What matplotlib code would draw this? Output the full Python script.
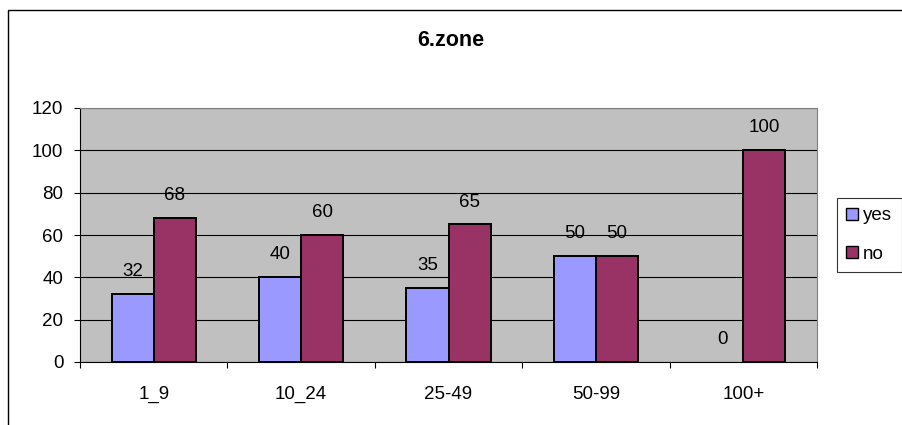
import matplotlib
matplotlib.use("Agg")
import matplotlib.pyplot as plt
import numpy as np
from matplotlib.patches import Rectangle

categories = ["1_9", "10_24", "25-49", "50-99", "100+"]
yes_values = [32, 40, 35, 50, 0]
no_values = [68, 60, 65, 50, 100]
series_names = ["yes", "no"]
y_ticks = [0, 20, 40, 60, 80, 100, 120]
title = "6.zone"

plt.rcParams["font.family"] = ["Liberation Sans", "DejaVu Sans"]
FS = 13.5

fig = plt.figure(figsize=(9.02, 4.25), dpi=100)
fig.patch.set_facecolor("white")

# chart frame (left and top edges visible)
fig.add_artist(Rectangle((8 / 902, -0.1), 1.2, (425 - 10) / 425 + 0.1,
                         transform=fig.transFigure, fill=False,
                         edgecolor="black", linewidth=1.0))

ax = fig.add_axes([80 / 902, 63 / 425, (817 - 80) / 902, (362 - 108) / 425])
ax.set_facecolor("#C0C0C0")

x = np.arange(len(categories))
w = 1 / 3.5


def edge_widths(vals):
    return [1.4 if v > 0 else 0 for v in vals]


b1 = ax.bar(x - w / 2, yes_values, w, color="#9999FF", edgecolor="black",
            linewidth=edge_widths(yes_values), label=series_names[0], zorder=3)
b2 = ax.bar(x + w / 2, no_values, w, color="#993366", edgecolor="black",
            linewidth=edge_widths(no_values), label=series_names[1], zorder=3)

for bars, vals in ((b1, yes_values), (b2, no_values)):
    for rect, v in zip(bars, vals):
        ax.annotate(f"{v}", (rect.get_x() + rect.get_width() / 2, v),
                    xytext=(0, 10), textcoords="offset points",
                    ha="center", va="bottom", fontsize=FS, zorder=4)

ax.set_xlim(-0.5, len(categories) - 0.5)
ax.set_ylim(0, 120)
ax.set_yticks(y_ticks)
ax.yaxis.grid(True, color="black", linewidth=0.8, zorder=1)
ax.set_axisbelow(True)

ax.set_xticks(x)
ax.set_xticklabels(categories, fontsize=FS)
ax.tick_params(axis="x", which="major", length=0, pad=17)
ax.set_xticks(np.arange(len(categories) + 1) - 0.5, minor=True)
ax.tick_params(axis="x", which="minor", length=4, width=0.8, direction="out")
ax.tick_params(axis="y", length=4, width=0.8, pad=8, labelsize=FS)

for side in ("top", "right"):
    ax.spines[side].set_color("#808080")
for side in ("left", "bottom"):
    ax.spines[side].set_color("black")

fig.text(451 / 902, 1 - 40 / 425, title, ha="center", va="center",
         fontsize=15.5, fontweight="bold")

leg = fig.legend(handles=[b1, b2], labels=series_names,
                 loc="upper left", bbox_to_anchor=(837 / 902, 1 - 198 / 425),
                 fontsize=FS, frameon=True, fancybox=False, edgecolor="black",
                 handlelength=0.6, handleheight=0.6, handletextpad=0.3,
                 borderpad=0.5, labelspacing=1.15, borderaxespad=0)
leg.get_frame().set_linewidth(0.8)
for h in leg.legend_handles:
    h.set_linewidth(1.0)

fig.savefig("out.png", dpi=100, facecolor="white")
